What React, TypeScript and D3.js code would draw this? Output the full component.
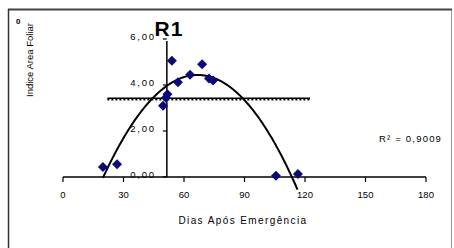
import React, { useEffect, useRef } from 'react';
import * as d3 from 'd3';

// leaf area index readings (days after emergence, LAI)
const days = [19.8, 26.8, 49.6, 51, 51.8, 54, 57, 63, 69, 72.4, 74.4, 105.6, 116.5];
const lai = [0.44, 0.55, 3.1, 3.45, 3.6, 5.05, 4.12, 4.45, 4.9, 4.28, 4.2, 0.05, 0.13];

// quadratic trendline coefficients (a*x^2 + b*x + c)
const trendCoef = [-0.00203, 0.271, -4.608];
const rSquared = '0,9009';

// horizontal reference line
const refLineX = [22, 122.5];
const refLineY = 3.42;

const xTicks = [0, 30, 60, 90, 120, 150, 180];
const yTicks = [0, 2, 4, 6];

const W = 454;
const H = 248;

const App = () => {
  const svgRef = useRef<SVGSVGElement>(null);

  useEffect(() => {
    const svg = d3.select(svgRef.current);
    svg.selectAll('*').remove();

    const x = d3.scaleLinear().domain([0, 180]).range([63, 426]);
    const y = d3.scaleLinear().domain([0, 6]).range([177, 39]);
    const axisX = 51.5; // value axis crosses here

    const font = "'Liberation Sans', Arial, sans-serif";

    svg.append('rect').attr('width', W).attr('height', H).attr('fill', '#fff');

    // outer frame
    svg.append('rect')
      .attr('x', 8.5).attr('y', 9.5).attr('width', 443).attr('height', 250)
      .attr('fill', 'none').attr('stroke', '#999').attr('stroke-width', 1);
    svg.append('line')
      .attr('x1', 8).attr('x2', 452).attr('y1', 9.5).attr('y2', 9.5)
      .attr('stroke', '#444').attr('stroke-width', 2);
    svg.append('line')
      .attr('x1', 8.5).attr('x2', 8.5).attr('y1', 9).attr('y2', H)
      .attr('stroke', '#333').attr('stroke-width', 1.5);

    svg.append('text').attr('x', 16).attr('y', 24)
      .attr('font-family', font).attr('font-size', 8).attr('font-weight', 'bold')
      .text('0');

    // x axis
    const gx = svg.append('g').attr('transform', `translate(0,${y(0)})`);
    gx.append('line').attr('x1', x(0)).attr('x2', x(180))
      .attr('stroke', '#000').attr('stroke-width', 1.5);
    xTicks.forEach((t) => {
      gx.append('line').attr('x1', x(t)).attr('x2', x(t)).attr('y1', 0).attr('y2', 5)
        .attr('stroke', '#000').attr('stroke-width', 1.2);
      gx.append('text').attr('x', x(t)).attr('y', 21)
        .attr('text-anchor', 'middle').attr('font-family', font).attr('font-size', 9.5)
        .text(t);
    });
    svg.append('text').attr('x', 243).attr('y', 224)
      .attr('text-anchor', 'middle').attr('font-family', font).attr('font-size', 10)
      .attr('letter-spacing', 1.4)
      .text('Dias Após Emergência');

    // y axis
    const gy = svg.append('g').attr('transform', `translate(${x(axisX)},0)`);
    gy.append('line').attr('y1', y(0)).attr('y2', y(6) + 2)
      .attr('stroke', '#000').attr('stroke-width', 1.5);
    yTicks.forEach((t) => {
      gy.append('line').attr('x1', -4).attr('x2', 0).attr('y1', y(t)).attr('y2', y(t))
        .attr('stroke', '#000').attr('stroke-width', 1.2);
      gy.append('text').attr('x', -11).attr('y', y(t) + 1)
        .attr('text-anchor', 'end').attr('font-family', font).attr('font-size', 9.5)
        .attr('letter-spacing', 1.8)
        .text(d3.format('.2f')(t).replace('.', ','));
    });
    svg.append('text')
      .attr('transform', 'translate(33,60) rotate(-90)')
      .attr('text-anchor', 'middle').attr('font-family', font).attr('font-size', 9.5)
      .text('Indice Area Foliar');

    // title
    svg.append('text').attr('x', 169).attr('y', 36)
      .attr('text-anchor', 'middle').attr('font-family', font).attr('font-size', 21)
      .attr('font-weight', 'bold').attr('letter-spacing', 1).text('R1');

    // horizontal reference line
    svg.append('line')
      .attr('x1', x(refLineX[0])).attr('x2', x(refLineX[1]))
      .attr('y1', y(refLineY)).attr('y2', y(refLineY))
      .attr('stroke', '#000').attr('stroke-width', 1.5);
    svg.append('line')
      .attr('x1', x(refLineX[0])).attr('x2', x(refLineX[1]))
      .attr('y1', y(refLineY) + 1.5).attr('y2', y(refLineY) + 1.5)
      .attr('stroke', '#000').attr('stroke-width', 1.5).attr('stroke-dasharray', '2,2');

    // trendline over the data range
    const [a, b, c] = trendCoef;
    const xs = d3.range(d3.min(days)!, d3.max(days)! + 0.01, 0.5);
    const line = d3.line<number>().x((d) => x(d)).y((d) => y(a * d * d + b * d + c));
    svg.append('path').datum(xs).attr('d', line)
      .attr('fill', 'none').attr('stroke', '#000').attr('stroke-width', 2);

    // markers
    const diamond = d3.symbol().type(d3.symbolSquare).size(50);
    svg.append('g').selectAll('path').data(days).enter().append('path')
      .attr('d', diamond)
      .attr('transform', (d, i) => `translate(${x(d)},${y(lai[i])}) rotate(45)`)
      .attr('fill', '#0a0a78');

    svg.append('text').attr('x', 379).attr('y', 142)
      .attr('font-family', font).attr('font-size', 9.5).attr('letter-spacing', 1.2)
      .text(`R² = ${rSquared}`);
  }, []);

  return (
    <svg ref={svgRef} width={W} height={H}
      style={{ position: 'absolute', left: 0, top: 0, display: 'block' }} />
  );
};

export default App;
